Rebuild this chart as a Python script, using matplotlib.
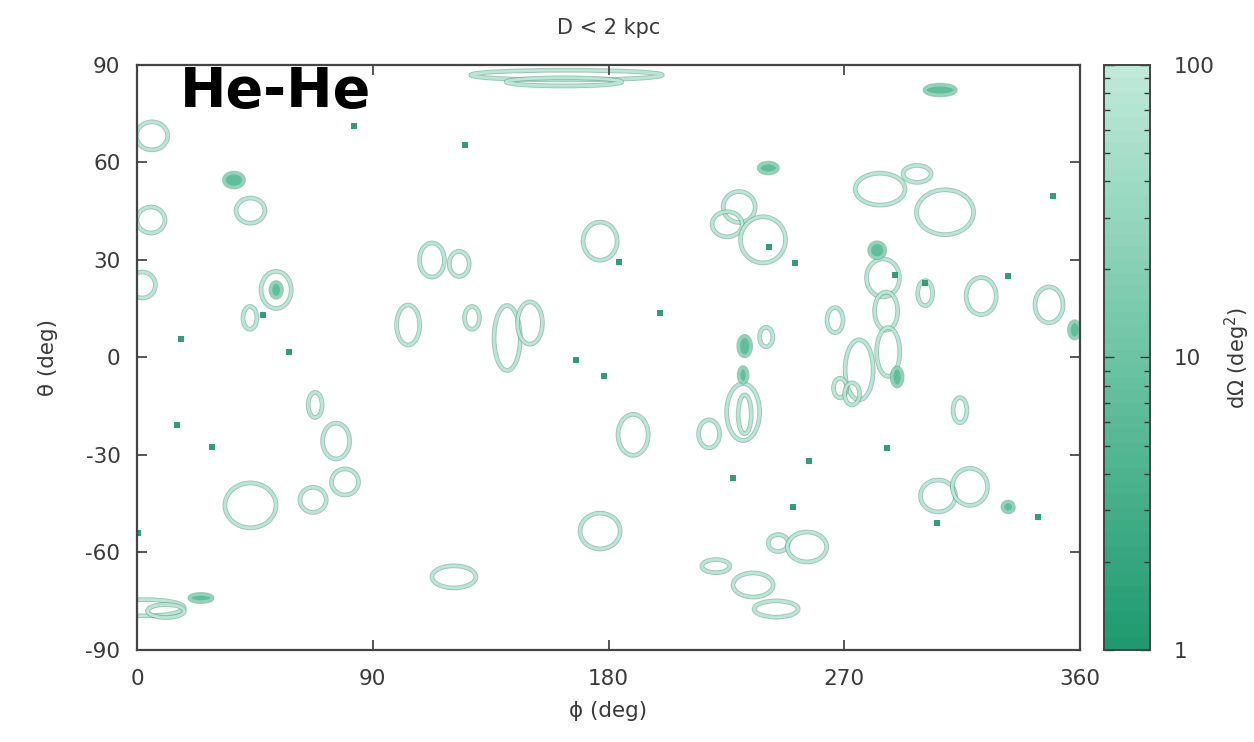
import matplotlib
matplotlib.use("Agg")
import matplotlib.pyplot as plt
import matplotlib.patheffects as pe
from matplotlib.patches import Ellipse
from matplotlib.colors import LinearSegmentedColormap, LogNorm
from matplotlib.cm import ScalarMappable

plt.rcParams["axes.unicode_minus"] = False

# sky regions: centre phi, centre theta, width (deg phi), height (deg theta)
ring_phi = [164, 163, 306.6, 5.7, 37.0, 43.3, 5.3, 2.0, 53.1, 53.1, 43.1, 103.5,
            112.6, 123.0, 127.9, 141.3, 150.0, 176.8, 189.4, 176.8, 121.0, 218.4,
            231.4, 232.0, 231.4, 232.0, 240.2, 221.0, 235.2, 244.0, 244.8, 255.8,
            305.8, 318.0, 314.2, 275.7, 268.4, 273.0, 284.8, 286.0, 286.8, 290.2,
            282.6, 300.9, 266.5, 322.3, 348.2, 358.0, 283.7, 297.8, 308.5, 229.9,
            225.3, 239.0, 241.0, 68.0, 76.0, 79.4, 67.2, 43.3, 3.0, 11.0, 24.4, 332.6]
ring_theta = [86.9, 84.8, 82.3, 68.2, 54.6, 45.2, 42.3, 22.3, 20.8, 20.8, 12.2, 10.0,
              30.0, 28.8, 12.2, 6.0, 10.6, 35.8, -23.8, -53.4, -67.5, -23.5,
              -16.8, -17.5, -5.4, 3.5, 6.3, -64.2, -70.0, -77.4, -57.1, -58.3,
              -42.6, -39.8, -16.2, -3.8, -9.4, -11.2, 24.5, 14.3, 1.7, -6.0,
              33.0, 19.8, 11.5, 18.9, 16.2, 8.5, 51.8, 56.5, 44.7, 46.3,
              41.0, 36.2, 58.3, -14.6, -25.7, -38.3, -43.8, -45.5, -77.0, -78.0, -74.0, -46.0]
ring_w = [73, 44, 11.5, 12, 7.3, 11, 10.7, 10, 11.5, 4, 5.3, 8.8,
          9.5, 7.6, 5.7, 10, 9.5, 13, 11.5, 15.3, 16.8, 8,
          12.6, 5, 3, 4.5, 5, 10.7, 15.3, 16.8, 7.6, 15,
          13.4, 13.4, 5.3, 10.7, 5, 5.7, 12.6, 8.8, 8.8, 3.8,
          5.7, 5.7, 6.1, 11.5, 10.7, 4, 19, 10.7, 21.8, 12.2,
          11.5, 17.2, 6.9, 5.3, 10.3, 10.3, 10, 19.5, 30, 14, 8.4, 4]
ring_h = [3.0, 2.5, 3.0, 8.6, 4.3, 7.7, 8.0, 8.0, 11.4, 4.5, 7.0, 12.3,
          10.5, 7.7, 7.0, 20.0, 13.0, 11.7, 12.6, 11.0, 6.8, 8.6,
          17.5, 12.0, 4.5, 6.0, 6.0, 4.0, 7.4, 5.0, 5.2, 9.2,
          9.8, 11.4, 7.7, 18.5, 6.0, 6.8, 11.7, 11.7, 15.0, 5.5,
          4.6, 7.7, 7.7, 11.4, 11.0, 5.0, 9.8, 5.2, 13.8, 9.5,
          7.7, 14.2, 3.0, 7.7, 11.0, 8.0, 7.7, 13.8, 5.0, 4.0, 2.2, 3.0]

# tiny regions drawn as dots
dot_phi = [82.9, 125.2, 48.1, 16.8, 58.0, 167.6, 178.3, 184.0, 199.7, 227.6, 250.5, 256.6,
           286.4, 305.5, 344.0, 241.3, 251.2, 289.4, 301.0, 332.6, 349.8, 15.3, 28.6, 0.5]
dot_theta = [71.2, 65.4, 13.1, 5.7, 1.7, -0.8, -5.7, 29.4, 13.7, -37.0, -46.0, -31.8,
             -27.8, -51.0, -49.0, 34.0, 29.0, 25.4, 23.0, 25.0, 49.7, -20.8, -27.5, -54.0]

x_ticks = [0, 90, 180, 270, 360]
y_ticks = [-90, -60, -30, 0, 30, 60, 90]

RING = "#b8e8d5"
EDGE = "#5f9f88"
DOT = "#2f9f7a"
TXT = "#3a3a3a"

fig = plt.figure(figsize=(12.54, 7.42), dpi=100)
ax = fig.add_axes([0.1093, 0.124, 0.7519, 0.7884])
cax = fig.add_axes([0.8804, 0.124, 0.0367, 0.7884])

for p, t, w, h in zip(ring_phi, ring_theta, ring_w, ring_h):
    # the smallest regions come out as solid blobs in the original
    small = w * h < 40 and min(w, h) < 5
    e = Ellipse((p, t), w, h, fill=small, facecolor="#5fbf9c",
                edgecolor=RING, lw=2.0)
    e.set_path_effects([pe.Stroke(linewidth=3.4, foreground=EDGE, alpha=0.6),
                        pe.Stroke(linewidth=2.0, foreground="#8fd3b9" if small else RING)])
    ax.add_patch(e)

ax.scatter(dot_phi, dot_theta, s=13, marker="s", color=DOT, linewidths=0)

ax.set_xlim(0, 360)
ax.set_ylim(-90, 90)
ax.set_xticks(x_ticks)
ax.set_yticks(y_ticks)
ax.tick_params(direction="in", top=True, right=True, length=7, width=1.2,
               labelsize=15.5, colors=TXT)
ax.tick_params(axis="x", pad=14)
ax.tick_params(axis="y", pad=12)
for s in ax.spines.values():
    s.set_linewidth(1.6)
    s.set_color("#444444")
ax.set_xlabel("\u03d5 (deg)", fontsize=15.5, color=TXT, labelpad=8)
ax.set_ylabel("\u03b8 (deg)", fontsize=15.5, color=TXT, labelpad=20)
ax.set_title("D < 2 kpc", fontsize=15, color=TXT, pad=22)

fig.text(0.1435, 0.8558, "He-He", fontsize=40, fontweight="bold",
         color="black", va="baseline")

cmap = LinearSegmentedColormap.from_list("gr", ["#1f9a70", "#6cc4a4", "#bfe9d9"], N=45)
sm = ScalarMappable(norm=LogNorm(1, 100), cmap=cmap)
cb = fig.colorbar(sm, cax=cax)
cb.outline.set_linewidth(1.4)
cb.outline.set_edgecolor("#444444")
cax.yaxis.set_ticks_position("both")
cax.tick_params(which="both", direction="in", colors=TXT, labelsize=15.5, pad=17)
cax.tick_params(which="major", length=7, width=1.0)
cax.tick_params(which="minor", length=4, width=1.0)
cax.set_yticks([1, 10, 100])
cax.set_yticklabels(["1", "10", "100"])
fig.text(0.987, 0.518, "d\u03a9 (deg$^2$)", fontsize=15, color=TXT,
         rotation=90, ha="center", va="center")

fig.savefig("out.png", dpi=100)
